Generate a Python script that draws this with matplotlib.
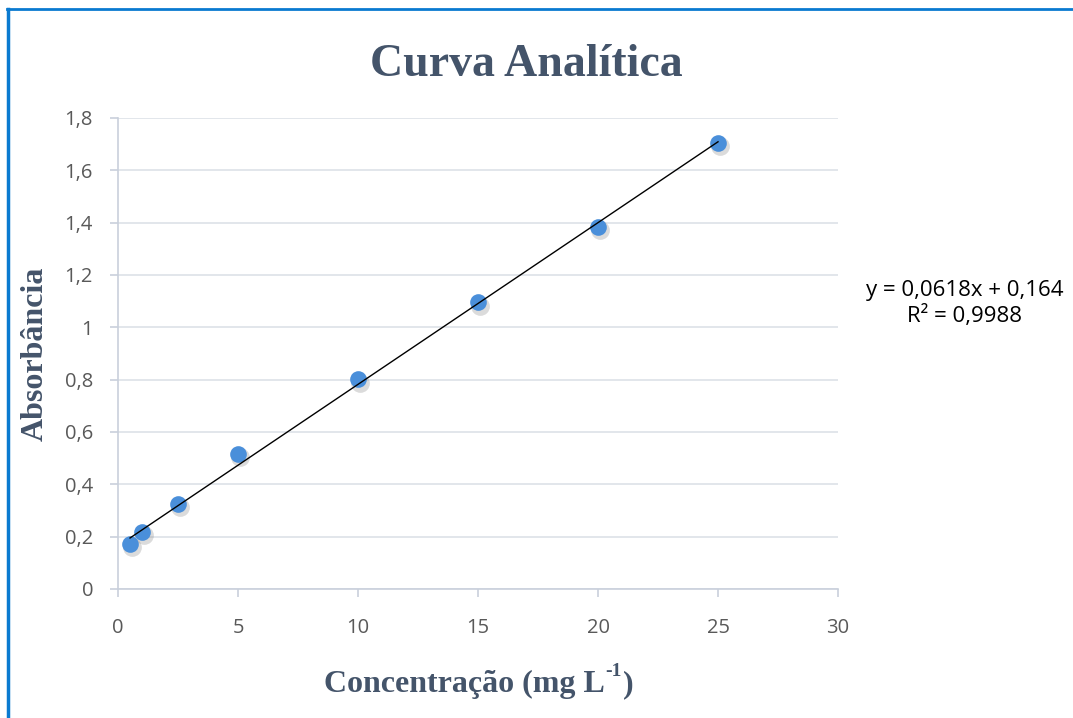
import numpy as np
import matplotlib
matplotlib.use('Agg')
import matplotlib.pyplot as plt
from matplotlib.lines import Line2D
from matplotlib.ticker import FuncFormatter

# dados da curva analitica
concentracao = [0.5, 1, 2.5, 5, 10, 15, 20, 25]
absorbancia = [0.172, 0.219, 0.325, 0.516, 0.801, 1.095, 1.384, 1.705]
coef_angular = 0.0618
coef_linear = 0.164
r2 = 0.9988

txt_color = '#44546A'
tick_color = '#595959'

fig = plt.figure(figsize=(10.73, 7.18), dpi=100)
ax = fig.add_axes([0.110, 0.1797, 0.671, 0.656])

# sombra dos marcadores
ax.plot(np.array(concentracao) + 0.07, np.array(absorbancia) - 0.012, 'o',
        color='#808080', alpha=0.28, markersize=13.5, markeredgewidth=0, zorder=3)
ax.plot(concentracao, absorbancia, 'o', color='#4A8FDA', markersize=12,
        markeredgewidth=0, zorder=4)

# linha de tendencia
xs = np.array([concentracao[0], concentracao[-1]])
ax.plot(xs, coef_angular * xs + coef_linear, color='black', linewidth=1, zorder=5)

ax.set_xlim(0, 30)
ax.set_ylim(0, 1.8)
ax.set_xticks(np.arange(0, 31, 5))
ax.set_yticks(np.arange(0, 1.81, 0.2))

fmt = FuncFormatter(lambda v, p: ('%g' % round(v, 1)).replace('.', ','))
ax.yaxis.set_major_formatter(fmt)

for s in ['top', 'right']:
    ax.spines[s].set_visible(False)
for s in ['left', 'bottom']:
    ax.spines[s].set_color('#C9D0DC')
    ax.spines[s].set_linewidth(1.2)
ax.grid(axis='y', color='#DDE1E8', linewidth=1.2)
ax.set_axisbelow(True)
ax.tick_params(direction='out', length=6, width=1.2, color='#C9D0DC',
               labelcolor=tick_color, labelsize=14.5)
ax.tick_params(axis='x', pad=15)
ax.tick_params(axis='y', pad=12)
for lbl in ax.get_xticklabels() + ax.get_yticklabels():
    lbl.set_fontfamily('Open Sans')

fig.text(0.491, 0.909, 'Curva Analítica', ha='center', va='center',
         fontsize=33, fontweight='bold', family='Liberation Serif', color=txt_color)

# rotulo do eixo x com expoente montado em partes
serif = dict(fontweight='bold', family='Liberation Serif', color=txt_color)
r = fig.canvas.get_renderer()
t1 = fig.text(0, 0, 'Concentração (mg L', fontsize=23, va='baseline', **serif)
t2 = fig.text(0, 0, '-1', fontsize=14, va='baseline', **serif)
t3 = fig.text(0, 0, ')', fontsize=23, va='baseline', **serif)
w1 = t1.get_window_extent(r).width
w2 = t2.get_window_extent(r).width
w3 = t3.get_window_extent(r).width
W = fig.bbox.width
x0 = 0.445 * W - (w1 + w2 + w3) / 2
yb = 0.036
t1.set_position((x0 / W, yb))
t2.set_position(((x0 + w1 + 1) / W, yb + 0.022))
t3.set_position(((x0 + w1 + w2 + 2) / W, yb))

fig.text(0.033, 0.507, 'Absorbância', ha='center', va='center', rotation=90,
         fontsize=23, **serif)

eq = 'y = %sx + %s\nR² = %s' % (str(coef_angular).replace('.', ','),
                                 str(coef_linear).replace('.', ','),
                                 str(r2).replace('.', ','))
fig.text(0.899, 0.577, eq, ha='center', va='center', fontsize=16,
         family='Open Sans', color='black', linespacing=1.25)

# moldura azul
fig.add_artist(Line2D([0.0075, 0.0075], [0, 0.987], color='#0A7AD0', linewidth=2.5,
                      transform=fig.transFigure))
fig.add_artist(Line2D([0.0065, 1.0], [0.987, 0.987], color='#0A7AD0', linewidth=2,
                      transform=fig.transFigure))

fig.savefig('out.png', dpi=100)
